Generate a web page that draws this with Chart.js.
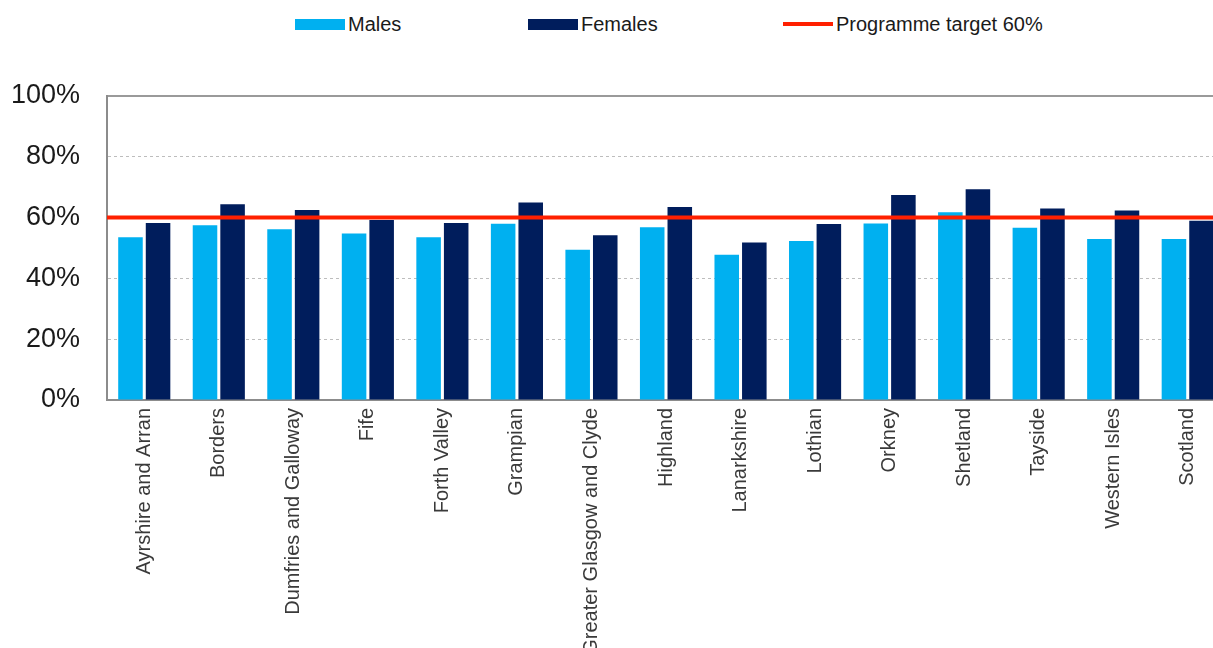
<!DOCTYPE html>
<html>
<head>
<meta charset="utf-8">
<script src="https://cdn.jsdelivr.net/npm/chart.js@4"></script>
<style>
  html, body { margin: 0; padding: 0; background: #fff; overflow: hidden; }
  body { width: 1213px; height: 648px; position: relative; font-family: "Liberation Sans", Arial, sans-serif; }
  #chart { position: absolute; left: 0; top: 0; }
  .legend-item { position: absolute; top: 12px; height: 24px; display: flex; align-items: center; font-size: 20px; color: #1a1a1a; white-space: nowrap; }
  .legend-item .swatch { width: 50px; margin-right: 3px; }
</style>
</head>
<body>
<div id="legend"></div>
<canvas id="chart" width="1225" height="648"></canvas>
<script>
// Chart data
const categories = ['Ayrshire and Arran', 'Borders', 'Dumfries and Galloway', 'Fife', 'Forth Valley',
  'Grampian', 'Greater Glasgow and Clyde', 'Highland', 'Lanarkshire', 'Lothian', 'Orkney',
  'Shetland', 'Tayside', 'Western Isles', 'Scotland'];
const males = [53.5, 57.5, 56.2, 54.8, 53.5, 58.0, 49.4, 56.8, 47.8, 52.3, 58.1, 61.8, 56.7, 53.0, 53.0];
const females = [58.2, 64.4, 62.5, 59.2, 58.2, 65.0, 54.2, 63.5, 51.8, 57.9, 67.4, 69.3, 63.0, 62.3, 59.0];
const target = 60;
const targetLabel = 'Programme target 60%';
const yTicks = [0, 20, 40, 60, 80, 100];

const FONT = '"Liberation Sans", Arial, sans-serif';
const TARGET_COLOR = '#ff2000';

// target line across the whole plot, placed with the y scale
const targetLine = {
  id: 'targetLine',
  afterDatasetsDraw(chart) {
    const { ctx, chartArea, scales } = chart;
    const y = scales.y.getPixelForValue(target);
    ctx.save();
    ctx.strokeStyle = TARGET_COLOR;
    ctx.lineWidth = 4;
    ctx.beginPath();
    ctx.moveTo(chartArea.left, y);
    ctx.lineTo(chartArea.right, y);
    ctx.stroke();
    ctx.restore();
  }
};

document.addEventListener('DOMContentLoaded', () => {
  const ctx = document.getElementById('chart');

  const chart = new Chart(ctx, {
    type: 'bar',
    data: {
      labels: categories,
      datasets: [
        {
          label: 'Males',
          data: males,
          backgroundColor: '#00b0f0',
          categoryPercentage: 0.74,
          barPercentage: 0.89
        },
        {
          label: 'Females',
          data: females,
          backgroundColor: '#001d5c',
          categoryPercentage: 0.74,
          barPercentage: 0.89
        }
      ]
    },
    options: {
      responsive: false,
      animation: false,
      layout: { padding: { top: 96, left: 0, right: 0, bottom: 0 } },
      plugins: {
        legend: { display: false },
        tooltip: { enabled: false }
      },
      scales: {
        x: {
          type: 'category',
          offset: true,
          grid: { display: false, drawTicks: false },
          border: { color: '#8c8c8c', width: 2 },
          ticks: {
            autoSkip: false,
            minRotation: 90,
            maxRotation: 90,
            padding: 8,
            color: '#3a3a3a',
            font: { family: FONT, size: 20 }
          },
          afterFit: (scale) => { scale.height = 248; }
        },
        y: {
          min: 0,
          max: 100,
          afterBuildTicks: (scale) => { scale.ticks = yTicks.map(v => ({ value: v })); },
          grid: {
            drawTicks: false,
            lineWidth: (c) => (c.tick && c.tick.value === 100) ? 2 : 1,
            color: (c) => {
              if (!c.tick || c.tick.value === 0) return 'rgba(0,0,0,0)';
              return c.tick.value === 100 ? '#9a9a9a' : '#bdbdbd';
            }
          },
          border: {
            color: '#8c8c8c',
            width: 2,
            dash: (c) => (c.tick && c.tick.value !== 100) ? [3, 3] : []
          },
          ticks: {
            padding: 27,
            color: '#1a1a1a',
            font: { family: FONT, size: 27 },
            callback: (v) => v + '%'
          },
          afterFit: (scale) => { scale.width = 107; }
        }
      }
    },
    plugins: [targetLine]
  });

  // HTML legend built from the datasets plus the target
  const legend = document.getElementById('legend');
  const items = chart.data.datasets.map(d => ({ text: d.label, color: d.backgroundColor, line: false }));
  items.push({ text: targetLabel, color: TARGET_COLOR, line: true });
  const lefts = [295, 528, 783];
  items.forEach((it, i) => {
    const item = document.createElement('div');
    item.className = 'legend-item';
    item.style.left = lefts[i] + 'px';
    const sw = document.createElement('span');
    sw.className = 'swatch';
    sw.style.height = it.line ? '4px' : '11px';
    sw.style.background = it.color;
    const txt = document.createElement('span');
    txt.textContent = it.text;
    item.appendChild(sw);
    item.appendChild(txt);
    legend.appendChild(item);
  });
});
</script>
</body>
</html>
